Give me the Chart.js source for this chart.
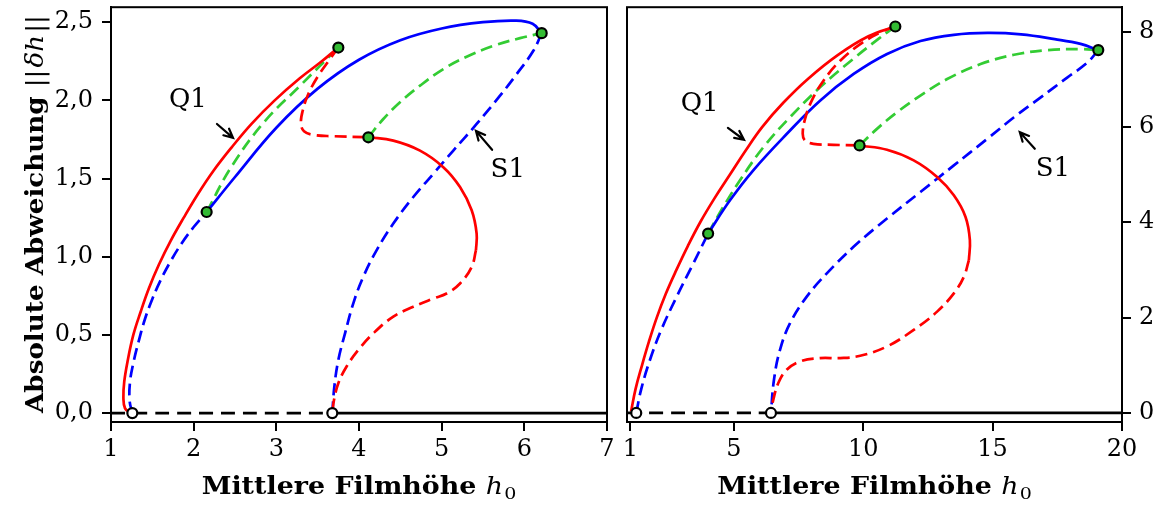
<!DOCTYPE html>
<html><head><meta charset="utf-8">
<script src="https://cdn.jsdelivr.net/npm/chart.js@4"></script>
<style>
html,body{margin:0;padding:0;background:#fff;width:1162px;height:507px;overflow:hidden}
#l{position:absolute;left:0;top:0;width:620px;height:507px}
#r{position:absolute;left:615px;top:0;width:547px;height:507px}
</style></head><body>
<div id="l"><canvas id="cl"></canvas></div>
<div id="r"><canvas id="cr"></canvas></div>
<script>
// ---------- tick labels ----------
const ticksLeftX = [1,2,3,4,5,6,7];
const ticksLeftY = [0,0.5,1.0,1.5,2.0,2.5];
const ticksRightX = [1,5,10,15,20];
const ticksRightY = [0,2,4,6,8];

// ---------- left panel data (x = h0, y = ||dh||) ----------
const L_zeroDashed = [[1.0,0],[3.677,0]];
const L_zeroSolid  = [[3.677,0],[7.0,0]];
const L_Q1_red_solid = [[1.24,0.0],[1.17,0.03],[1.15,0.1],[1.16,0.2],[1.2,0.33],[1.27,0.5],[1.36,0.65],[1.46,0.8],[1.58,0.95],[1.72,1.1],[1.88,1.25],[2.05,1.4],[2.24,1.55],[2.46,1.7],[2.7,1.85],[2.98,2.0],[3.28,2.14],[3.55,2.25],[3.75,2.338]];
const L_Q1_blue_dashed = [[1.258,0],[1.225,0.08],[1.23,0.2],[1.27,0.32],[1.33,0.45],[1.41,0.6],[1.5,0.73],[1.6,0.85],[1.72,0.97],[1.86,1.09],[2.0,1.19],[2.157,1.286]];
const L_blue_solid = [[2.157,1.286],[2.5,1.51],[3.0,1.825],[3.5,2.075],[4.0,2.26],[4.5,2.385],[5.0,2.46],[5.5,2.5],[5.9,2.51],[6.1,2.49],[6.21,2.43]];
const L_Q1_green_dashed = [[2.157,1.286],[2.45,1.57],[2.85,1.86],[3.3,2.1],[3.75,2.338]];
const L_Q1_red_dashed = [[3.75,2.338],[3.649,2.264],[3.508,2.158],[3.387,2.041],[3.319,1.934],[3.298,1.849],[3.335,1.803],[3.448,1.779],[3.69,1.771],[4.113,1.764]];
const L_S1_red_solid = [[4.113,1.764],[4.415,1.743],[4.738,1.679],[5.02,1.573],[5.222,1.446],[5.363,1.297],[5.423,1.148],[5.415,1.042]];
const L_S1_red_dashed = [[5.415,1.042],[5.363,0.935],[5.222,0.829],[5.06,0.765],[4.9,0.733],[4.657,0.68],[4.415,0.617],[4.173,0.51],[3.992,0.404],[3.85,0.298],[3.75,0.191],[3.698,0.085],[3.677,0]];
const L_S1_blue_dashed = [[6.21,2.43],[6.109,2.317],[5.907,2.168],[5.706,2.03],[5.423,1.849],[5.141,1.679],[4.9,1.531],[4.657,1.382],[4.415,1.212],[4.214,1.042],[4.052,0.872],[3.931,0.702],[3.831,0.51],[3.75,0.34],[3.702,0.17],[3.677,0]];
const L_S1_green_dashed = [[4.113,1.764],[4.294,1.881],[4.496,1.988],[4.738,2.094],[5.02,2.2],[5.302,2.279],[5.625,2.349],[5.948,2.398],[6.21,2.43]];
const L_greenPts = [[2.157,1.286],[3.75,2.338],[4.113,1.764],[6.21,2.43]];
const L_openPts  = [[1.258,0],[3.677,0]];

// ---------- right panel data ----------
const R_zeroDashed = [[0.87,0],[6.434,0]];
const R_zeroSolid  = [[6.434,0],[20,0]];
const R_Q1_red_solid = [[1.03,0.035],[1.2,0.5],[1.45,1.0],[1.72,1.5],[2.02,2.0],[2.37,2.5],[2.78,3.0],[3.22,3.5],[3.7,4.0],[4.25,4.5],[4.85,5.0],[5.45,5.5],[6.1,6.0],[6.9,6.5],[7.85,7.0],[9.0,7.5],[10.2,7.9],[11.24,8.105]];
const R_Q1_blue_dashed = [[1.227,0],[1.42,0.5],[1.75,1.1],[2.2,1.75],[2.8,2.45],[3.4,3.1],[4.005,3.763]];
const R_blue_solid = [[4.005,3.763],[4.85,4.46],[5.75,5.09],[7.04,5.85],[8.33,6.55],[9.63,7.11],[10.92,7.53],[12.21,7.8],[13.5,7.93],[14.8,7.97],[16.1,7.94],[17.4,7.84],[18.4,7.74],[19.083,7.61]];
const R_Q1_green_dashed = [[4.005,3.763],[4.6,4.33],[5.25,4.89],[6.15,5.58],[7.2,6.22],[8.35,6.84],[9.6,7.42],[10.6,7.85],[11.24,8.105]];
const R_Q1_red_dashed = [[11.24,8.105],[10.659,7.979],[9.884,7.735],[9.109,7.387],[8.463,6.969],[8.01,6.551],[7.752,6.167],[7.661,5.854],[7.752,5.714],[8.075,5.645],[8.85,5.624],[9.858,5.61]];
const R_S1_red_solid = [[9.858,5.61],[10.917,5.519],[11.95,5.296],[12.855,4.948],[13.501,4.564],[13.953,4.111],[14.121,3.624],[14.083,3.206]];
const R_S1_red_dashed = [[14.083,3.206],[13.889,2.857],[13.501,2.509],[12.855,2.125],[11.95,1.742],[10.917,1.394],[9.884,1.199],[9.109,1.15],[8.333,1.15],[7.558,1.08],[7.041,0.906],[6.718,0.627],[6.525,0.279],[6.434,0]];
const R_S1_blue_dashed = [[19.083,7.61],[18.669,7.352],[17.894,7.038],[16.86,6.62],[15.827,6.202],[14.793,5.749],[13.501,5.192],[12.209,4.634],[10.917,4.077],[9.625,3.484],[8.592,2.927],[7.817,2.439],[7.171,1.882],[6.783,1.324],[6.55,0.697],[6.434,0]];
const R_S1_green_dashed = [[9.858,5.61],[10.53,5.958],[11.305,6.307],[12.209,6.655],[13.243,7.003],[14.535,7.317],[15.827,7.512],[17.119,7.61],[18.411,7.631],[19.083,7.61]];
const R_greenPts = [[4.005,3.763],[11.24,8.105],[9.858,5.61],[19.083,7.61]];
const R_openPts  = [[1.227,0],[6.434,0]];

// ---------- annotations (data coordinates) ----------
const L_labels = [{t:'Q1',x:1.93,y:2.0},{t:'S1',x:5.80,y:1.55}];
const L_arrows = [{x0:2.282,y0:1.849,x1:2.476,y1:1.760},{x0:5.61,y0:1.684,x1:5.415,y1:1.805}];
const R_labels = [{t:'Q1',x:3.68,y:6.48},{t:'S1',x:17.33,y:5.12}];
const R_arrows = [{x0:4.77,y0:5.98,x1:5.39,y1:5.73},{x0:16.63,y0:5.54,x1:16.05,y1:5.89}];

const RED='#ff0000', BLUE='#0000ff', GREEN='#33cc33', BLACK='#000000';
const DASH=[12,6], BDASH=[14,8];
const SERIF='"DejaVu Serif", serif';

const pts = a => a.map(p => ({x:p[0], y:p[1]}));
function line(data,color,dash,order){
  return {data:pts(data),showLine:true,borderColor:color,borderWidth:2.7,borderDash:dash||[],
    borderCapStyle:'butt',tension:0.4,pointRadius:0,pointHoverRadius:0,fill:false,order:order||2};
}
function marks(data,fill){
  return {data:pts(data),showLine:false,pointRadius:5,pointBorderWidth:2.2,pointBorderColor:BLACK,
    pointBackgroundColor:fill,pointHoverRadius:5,order:0};
}

function stretchText(c,parts,cx,cy,sx){
  let tot=0; parts.forEach(p=>{c.font=p.font; p.w=c.measureText(p.t).width+(p.gap||0); tot+=p.w;});
  c.save(); c.translate(cx,cy); c.scale(sx,1);
  let x=-tot/2;
  parts.forEach(p=>{c.font=p.font; c.fillText(p.t,x,p.dy||0); x+=p.w;});
  c.restore();
}

const annot = {
  id:'annot',
  afterDatasetsDraw(chart,args,o){
    const c=chart.ctx, xs=chart.scales.x, ys=chart.scales.y;
    c.save();
    c.fillStyle=BLACK; c.strokeStyle=BLACK;
    c.font='26px '+SERIF; c.textAlign='center'; c.textBaseline='middle';
    (o.labels||[]).forEach(l=>c.fillText(l.t, xs.getPixelForValue(l.x), ys.getPixelForValue(l.y)));
    c.lineWidth=2.2; c.lineCap='round'; c.lineJoin='miter';
    (o.arrows||[]).forEach(a=>{
      const x0=xs.getPixelForValue(a.x0), y0=ys.getPixelForValue(a.y0);
      const x1=xs.getPixelForValue(a.x1), y1=ys.getPixelForValue(a.y1);
      const ang=Math.atan2(y1-y0,x1-x0), L=10, s=0.45;
      c.beginPath(); c.moveTo(x0,y0); c.lineTo(x1,y1);
      c.moveTo(x1-L*Math.cos(ang-s), y1-L*Math.sin(ang-s)); c.lineTo(x1,y1);
      c.lineTo(x1-L*Math.cos(ang+s), y1-L*Math.sin(ang+s));
      c.stroke();
    });
    c.restore();
  },
  afterDraw(chart,args,o){
    const c=chart.ctx, ca=chart.chartArea;
    c.save();
    c.strokeStyle=BLACK; c.lineWidth=2;
    c.strokeRect(ca.left,ca.top,ca.right-ca.left,ca.bottom-ca.top);
    c.fillStyle=BLACK; c.textBaseline='alphabetic'; c.textAlign='left';
    const b='bold 24px '+SERIF, it='italic 24px '+SERIF, rg='24px '+SERIF, sub='17px '+SERIF;
    stretchText(c,[{t:'Mittlere Filmhöhe ',font:b},{t:'h',font:it,gap:1},{t:'0',font:sub,dy:5}],
      (ca.left+ca.right)/2, 494, 1.12);
    if(o.ylabel){
      c.save(); c.translate(43,214); c.rotate(-Math.PI/2);
      stretchText(c,[{t:'Absolute Abweichung ',font:b},{t:'||',font:rg,gap:2},{t:'δh',font:it,gap:2},{t:'||',font:rg}],0,0,1.09);
      c.restore();
    }
    c.restore();
  }
};

function axis(pos,min,max,ticks,fmt,size,pad){
  return {type:'linear',position:pos,min:min,max:max,
    afterBuildTicks:s=>{s.ticks=ticks.map(v=>({value:v}));},
    afterFit:s=>{ if(pos==='bottom'){s.height=size;} else {s.width=size;}
      s.paddingTop=0; s.paddingBottom=0; s.paddingLeft=0; s.paddingRight=0; },
    grid:{display:true,drawOnChartArea:false,drawTicks:true,tickLength:9,color:BLACK,lineWidth:2},
    border:{display:true,color:BLACK,width:2},
    ticks:{color:BLACK,font:{family:SERIF,size:24},padding:pad,maxRotation:0,autoSkip:false,callback:fmt}
  };
}
const fmtComma = v => Number(v).toFixed(1).replace('.',',');
const fmtInt = v => String(v);

function build(id,d,labels,arrows,ylabel,xr,yr,ypos,padL,padR,ywidth,ypad){
  return new Chart(document.getElementById(id),{
    type:'scatter',
    data:{datasets:[
      marks(d.green,'#33bb33'), marks(d.open,'#ffffff'),
      line(d.zd,BLACK,BDASH,3), line(d.zs,BLACK,null,3),
      line(d.q1bd,BLUE,DASH), line(d.bs,BLUE), line(d.s1bd,BLUE,DASH),
      line(d.q1gd,GREEN,DASH), line(d.s1gd,GREEN,DASH),
      line(d.q1rs,RED,null,1), line(d.q1rd,RED,DASH,1),
      line(d.s1rs,RED,null,1), line(d.s1rd,RED,DASH,1)
    ]},
    options:{responsive:true,maintainAspectRatio:false,devicePixelRatio:1,animation:false,
      layout:{padding:{left:padL,right:padR,top:6,bottom:0}},
      plugins:{legend:{display:false},tooltip:{enabled:false},
        annot:{labels:labels,arrows:arrows,ylabel:ylabel}},
      scales:{
        x:axis('bottom',xr[0],xr[1],xr[2],fmtInt,85,4),
        y:axis(ypos,yr[0],yr[1],yr[2],yr[3],ywidth,ypad)
      }},
    plugins:[annot]
  });
}

build('cl',{green:L_greenPts,open:L_openPts,zd:L_zeroDashed,zs:L_zeroSolid,q1bd:L_Q1_blue_dashed,bs:L_blue_solid,
  s1bd:L_S1_blue_dashed,q1gd:L_Q1_green_dashed,s1gd:L_S1_green_dashed,q1rs:L_Q1_red_solid,q1rd:L_Q1_red_dashed,
  s1rs:L_S1_red_solid,s1rd:L_S1_red_dashed},L_labels,L_arrows,true,
  [1,7,ticksLeftX],[-0.057,2.596,ticksLeftY,fmtComma],'left',0,13,111,9);

build('cr',{green:R_greenPts,open:R_openPts,zd:R_zeroDashed,zs:R_zeroSolid,q1bd:R_Q1_blue_dashed,bs:R_blue_solid,
  s1bd:R_S1_blue_dashed,q1gd:R_Q1_green_dashed,s1gd:R_S1_green_dashed,q1rs:R_Q1_red_solid,q1rd:R_Q1_red_dashed,
  s1rs:R_S1_red_solid,s1rd:R_S1_red_dashed},R_labels,R_arrows,false,
  [0.87,20,ticksRightX],[-0.19,8.51,ticksRightY,fmtInt],'right',12,0,40,8);
</script>
</body></html>
